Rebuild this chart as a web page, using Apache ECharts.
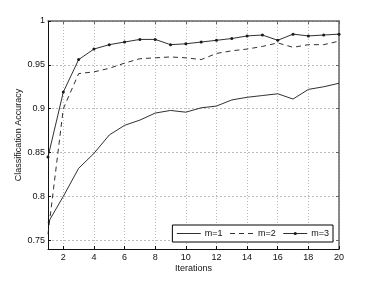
<!DOCTYPE html>
<html>
<head>
<meta charset="utf-8">
<style>html,body{margin:0;padding:0;background:#fff}#c{width:374px;height:281px}</style>
<script src="https://cdn.jsdelivr.net/npm/echarts@6/dist/echarts.min.js"></script>
</head>
<body>
<div id="c"></div>
<script>
var iterations = [1,2,3,4,5,6,7,8,9,10,11,12,13,14,15,16,17,18,19,20];
var m1 = [0.770,0.800,0.832,0.849,0.870,0.881,0.887,0.895,0.898,0.896,0.901,0.903,0.910,0.913,0.915,0.917,0.911,0.922,0.925,0.929];
var m2 = [0.757,0.900,0.940,0.942,0.946,0.952,0.957,0.958,0.959,0.958,0.956,0.963,0.966,0.968,0.971,0.975,0.970,0.973,0.973,0.977];
var m3 = [0.845,0.919,0.956,0.968,0.973,0.976,0.979,0.979,0.973,0.974,0.976,0.978,0.980,0.983,0.984,0.978,0.985,0.983,0.984,0.985];
var xTicks = [2,4,6,8,10,12,14,16,18,20];
var yTicks = [0.75,0.8,0.85,0.9,0.95,1];
var yTickLabels = ['0.75','0.8','0.85','0.9','0.95','1'];

function pairs(arr){ return iterations.map(function(x,i){return [x,arr[i]];}); }
var font = 'Liberation Sans, Arial, sans-serif';
var chart = echarts.init(document.getElementById('c'));
var lineCol = '#1a1a1a';
chart.setOption({
  animation:false,
  grid:{left:48,right:35,top:21,bottom:32},
  legend:{
    right:41,bottom:39,orient:'horizontal',
    itemWidth:24,itemHeight:4,itemGap:7,
    padding:[4,4,4,4],
    borderColor:'#000',borderWidth:1,backgroundColor:'#fff',
    lineStyle:{width:0.9},
    textStyle:{fontFamily:font,fontSize:9,color:'#111',padding:[0,0,0,-1]},
    data:[
      {name:'m=1',itemStyle:{opacity:0}},
      {name:'m=2',itemStyle:{opacity:0}},
      {name:'m=3'}
    ]
  },
  xAxis:[{
    type:'value',min:1,max:20,
    name:'Iterations',nameLocation:'middle',nameGap:15,nameMoveOverlap:false,
    nameTextStyle:{fontFamily:font,fontSize:9,color:'#111'},
    axisLine:{show:true,onZero:false,lineStyle:{color:'#111',width:1}},
    axisTick:{show:true,inside:true,length:3,customValues:xTicks,lineStyle:{color:'#111'}},
    axisLabel:{customValues:xTicks,fontFamily:font,fontSize:9,color:'#111',margin:4},
    splitLine:{show:true,lineStyle:{color:'#bbb',type:[1,2],width:1}}
  },{
    type:'value',min:1,max:20,position:'top',
    axisLine:{show:true,onZero:false,lineStyle:{color:'#666',width:1.5}},
    axisTick:{show:true,inside:true,length:3,customValues:xTicks,lineStyle:{color:'#666'}},
    axisLabel:{show:false},splitLine:{show:false}
  }],
  yAxis:[{
    type:'value',min:0.74,max:1,
    name:'Classification Accuracy',nameLocation:'middle',nameGap:25,nameMoveOverlap:false,
    nameTextStyle:{fontFamily:font,fontSize:9,color:'#111'},
    axisLine:{show:true,onZero:false,lineStyle:{color:'#111',width:1}},
    axisTick:{show:true,inside:true,length:3,customValues:yTicks,lineStyle:{color:'#111'}},
    axisLabel:{customValues:yTicks,fontFamily:font,fontSize:9,color:'#111',margin:3,
      formatter:function(v){var i=yTicks.findIndex(function(t){return Math.abs(t-v)<1e-6;});return i>=0?yTickLabels[i]:'';}},
    splitLine:{show:true,lineStyle:{color:'#bbb',type:[2,2],width:1}}
  },{
    type:'value',min:0.74,max:1,position:'right',
    axisLine:{show:true,onZero:false,lineStyle:{color:'#666',width:1.5}},
    axisTick:{show:true,inside:true,length:3,customValues:yTicks,lineStyle:{color:'#666'}},
    axisLabel:{show:false},splitLine:{show:false}
  }],
  series:[
    {name:'m=1',type:'line',data:pairs(m1),symbol:'none',lineStyle:{color:lineCol,width:0.9},itemStyle:{color:lineCol}},
    {name:'m=2',type:'line',data:pairs(m2),symbol:'none',lineStyle:{color:lineCol,width:0.9,type:[5,4]},itemStyle:{color:lineCol}},
    {name:'m=3',type:'line',data:pairs(m3),symbol:'circle',symbolSize:3,showSymbol:true,lineStyle:{color:lineCol,width:0.9},itemStyle:{color:lineCol}}
  ]
});
</script>
</body>
</html>
